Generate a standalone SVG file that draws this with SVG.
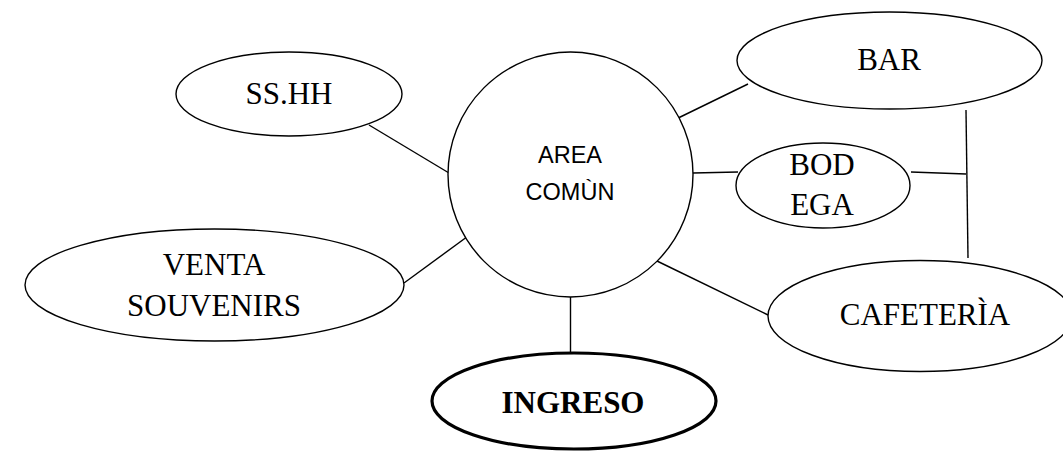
<svg xmlns="http://www.w3.org/2000/svg" width="1063" height="452" viewBox="0 0 1063 452">
<style>
.n{fill:#fff;stroke:#000;stroke-width:1.4}
.b{fill:#fff;stroke:#000;stroke-width:3.2}
.t{font-family:"Liberation Serif","Times New Roman",serif;font-size:31px;fill:#000;text-anchor:middle}
.s{font-family:"Liberation Sans",Arial,sans-serif;font-size:23.5px;fill:#000;text-anchor:middle}
#connectors line{stroke:#000;stroke-width:1.4}
</style>
<rect width="1063" height="452" fill="#fff"/>
<g id="connectors">
<line x1="369" y1="125" x2="449" y2="173"/>
<line x1="404" y1="283" x2="475" y2="231"/>
<line x1="748" y1="84" x2="670" y2="122"/>
<line x1="693" y1="173" x2="738" y2="172"/>
<line x1="657" y1="261" x2="768" y2="315"/>
<line x1="570.5" y1="297" x2="570.5" y2="357"/>
<line x1="911" y1="172" x2="966" y2="174"/>
<line x1="966" y1="110" x2="968" y2="258"/>
</g>
<g id="area">
<ellipse class="n" cx="570.5" cy="174.5" rx="122.5" ry="122.5"/>
<text class="s" x="570" y="163">AREA</text>
<text class="s" x="570" y="200">COMÙN</text>
</g>
<g id="sshh">
<ellipse class="n" cx="289" cy="94" rx="113" ry="42"/>
<text class="t" x="289" y="104">SS.HH</text>
</g>
<g id="venta">
<ellipse class="n" cx="214.5" cy="285" rx="189.5" ry="56"/>
<text class="t" x="214" y="275">VENTA</text>
<text class="t" x="214" y="316">SOUVENIRS</text>
</g>
<g id="bar">
<ellipse class="n" cx="889.5" cy="60.5" rx="152.5" ry="48.5"/>
<text class="t" x="889" y="70">BAR</text>
</g>
<g id="bodega">
<ellipse class="n" cx="823" cy="185.5" rx="87" ry="42.5"/>
<text class="t" x="822" y="175">BOD</text>
<text class="t" x="822" y="215">EGA</text>
</g>
<g id="cafeteria">
<ellipse class="n" cx="920" cy="316" rx="152" ry="55.5"/>
<text class="t" x="925" y="325">CAFETERÌA</text>
</g>
<g id="ingreso">
<ellipse class="b" cx="574" cy="401" rx="142" ry="48"/>
<text class="t" x="573" y="413" font-weight="bold">INGRESO</text>
</g>
</svg>
